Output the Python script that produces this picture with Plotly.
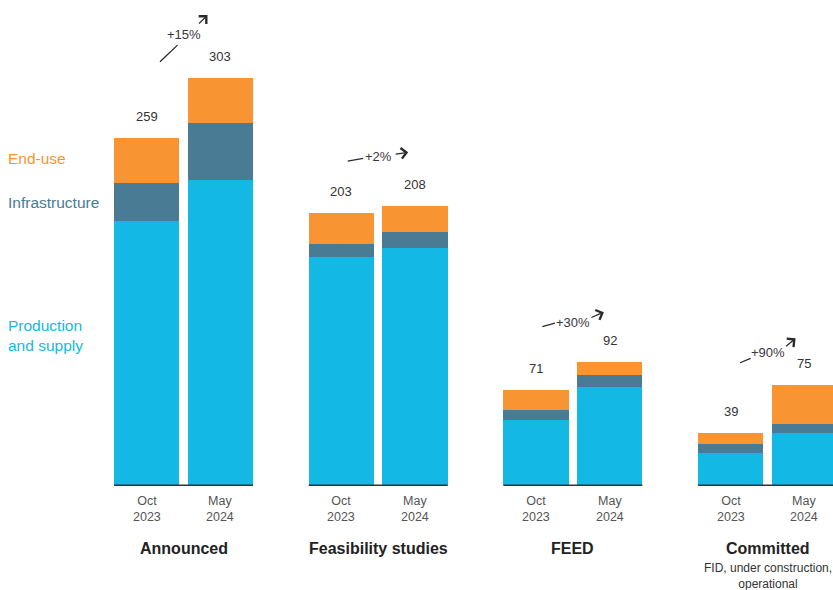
import plotly.graph_objects as go

# Pipeline stages and snapshot dates
stages = ["Announced", "Feasibility studies", "FEED", "Committed"]
stage_notes = ["", "", "", "FID, under construction,<br>operational"]
periods = ["Oct<br>2023", "May<br>2024"]

# Values per bar, ordered stage by stage (Oct 2023, May 2024)
production = [197, 227, 170, 177, 49, 73, 24, 39]
infrastructure = [28, 43, 10, 12, 7, 9, 7, 7]
end_use = [34, 33, 23, 19, 15, 10, 8, 29]
growth = ["+15%", "+2%", "+30%", "+90%"]

totals = [p + i + e for p, i, e in zip(production, infrastructure, end_use)]

# Geometry of the grouped bars (numeric x axis, one unit per stage)
BAR_W = 0.336
OFFSET = 0.189
xpos = []
for g in range(len(stages)):
    xpos += [g - OFFSET, g + OFFSET]

C_PROD = "#13b9e4"
C_INFRA = "#4a7b94"
C_END = "#f89532"
FONT = "Liberation Sans, Arial, Helvetica, sans-serif"

fig = go.Figure()
for name, vals, col in [("Production and supply", production, C_PROD),
                        ("Infrastructure", infrastructure, C_INFRA),
                        ("End-use", end_use, C_END)]:
    fig.add_trace(go.Bar(x=xpos, y=vals, width=BAR_W, name=name,
                         marker=dict(color=col, line=dict(width=0)),
                         hoverinfo="skip"))

ann = []
# totals above each bar
for x, t in zip(xpos, totals):
    ann.append(dict(x=x, y=t, xref="x", yref="y", text=str(t), showarrow=False,
                    yanchor="bottom", yshift=12,
                    font=dict(size=13, color="#333333", family=FONT)))

# period labels under each bar
for i, x in enumerate(xpos):
    ann.append(dict(x=x, y=0, xref="x", yref="y", text=periods[i % 2], showarrow=False,
                    yanchor="top", yshift=-7,
                    font=dict(size=12.5, color="#555555", family=FONT)))

# stage names and notes
for g, (s, note) in enumerate(zip(stages, stage_notes)):
    ann.append(dict(x=g, y=0, xref="x", yref="y", text="<b>" + s + "</b>", showarrow=False,
                    yanchor="top", yshift=-53,
                    font=dict(size=16, color="#222222", family=FONT)))
    if note:
        ann.append(dict(x=g, y=0, xref="x", yref="y", text=note, showarrow=False,
                        yanchor="top", yshift=-74,
                        font=dict(size=12, color="#333333", family=FONT)))

# growth labels with a broken arrow running through the text
label_lift = [33, 37, 29.5, 24]
tail_tip = [(-6, 11, -19, 18), (-15, 2, -17, 3), (-18, 1, -14, 4), (-17, 6, -12, 5)]
head_tip = [(24, 19, -10, 10), (30, 4, -14, 2), (31, 10, -14, 6), (28, 14, -11, 9)]
for g, lab in enumerate(growth):
    gy = max(totals[2 * g], totals[2 * g + 1]) + label_lift[g]
    ann.append(dict(x=g, y=gy, xref="x", yref="y", text=lab, showarrow=False,
                    font=dict(size=13, color="#3a3340", family=FONT)))
    xs, ys, ax, ay = tail_tip[g]
    ann.append(dict(x=g, y=gy, xref="x", yref="y", text="", showarrow=True,
                    arrowhead=0, arrowwidth=1.3, arrowcolor="#2a2a2a",
                    xshift=xs, yshift=-ys, ax=ax, ay=ay, standoff=0, startstandoff=0))
    xs, ys, ax, ay = head_tip[g]
    ann.append(dict(x=g, y=gy, xref="x", yref="y", text="", showarrow=True,
                    arrowhead=4, arrowsize=1.6, arrowwidth=1.3, arrowcolor="#2a2a2a",
                    xshift=xs, yshift=ys, ax=ax, ay=ay, standoff=0, startstandoff=0))

# series labels on the left
for text, yp, col in [("End-use", 0.676, C_END),
                      ("Infrastructure", 0.586, C_INFRA),
                      ("Production<br>and supply", 0.3135, C_PROD)]:
    ann.append(dict(x=6 / 833, y=yp, xref="paper", yref="paper", text=text, showarrow=False,
                    xanchor="left", yanchor="middle", align="left",
                    font=dict(size=15.5, color=col, family=FONT)))

# baseline under each pair of bars
shapes = []
for g in range(len(stages)):
    shapes.append(dict(type="line", xref="x", yref="y",
                       x0=g - OFFSET - BAR_W / 2, x1=g + OFFSET + BAR_W / 2, y0=0, y1=0,
                       line=dict(color="#333333", width=1.5)))

fig.update_layout(
    width=833, height=590,
    margin=dict(l=0, r=0, t=0, b=102),
    barmode="stack", bargap=0,
    plot_bgcolor="white", paper_bgcolor="white",
    showlegend=False,
    xaxis=dict(range=[-0.9425, 3.336], visible=False, fixedrange=True),
    yaxis=dict(range=[-2, 361.4], visible=False, fixedrange=True),
    annotations=ann, shapes=shapes,
    font=dict(family=FONT),
)

fig.write_html("out.html")
